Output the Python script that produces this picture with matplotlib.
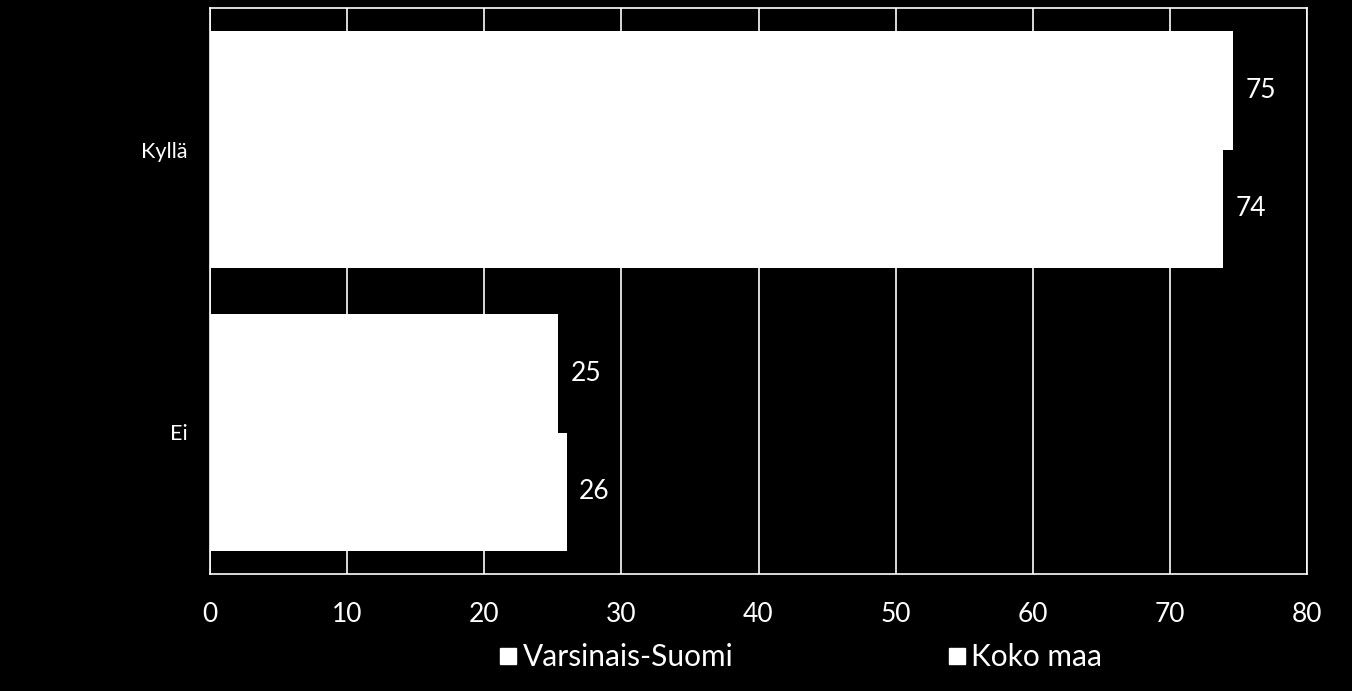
import matplotlib
matplotlib.use("Agg")
import matplotlib.pyplot as plt
from matplotlib.lines import Line2D
import numpy as np

plt.rcParams['font.family'] = ['Lato', 'DejaVu Sans']

categories = ['Kyllä', 'Ei']
series = ['Varsinais-Suomi', 'Koko maa']
varsinais_suomi = [74.6, 25.4]
koko_maa = [73.9, 26.0]
ticks = [0, 10, 20, 30, 40, 50, 60, 70, 80]

fig = plt.figure(figsize=(13.52, 6.91), dpi=100, facecolor='black')
ax = fig.add_axes([210/1352, 1 - 574/691, 1097/1352, 566/691], facecolor='black')

y = np.arange(len(categories))
h = 0.417
ax.barh(y - h/2, varsinais_suomi, height=h, color='white', zorder=3)
ax.barh(y + h/2, koko_maa, height=h, color='white', zorder=3)

for i in range(len(categories)):
    ax.text(varsinais_suomi[i] + 0.9, y[i] - h/2, f"{varsinais_suomi[i]:.0f}",
            color='white', fontsize=19, va='center', ha='left')
    ax.text(koko_maa[i] + 0.9, y[i] + h/2, f"{koko_maa[i]:.0f}",
            color='white', fontsize=19, va='center', ha='left')

ax.set_xlim(0, 80)
ax.set_ylim(1.5, -0.5)
ax.set_xticks(ticks)
ax.set_xticklabels([str(t) for t in ticks], fontsize=19, color='white')
ax.set_yticks(y)
ax.set_yticklabels(categories, fontsize=15.5, color='white')
ax.tick_params(axis='both', length=0)
ax.tick_params(axis='x', pad=20)
ax.tick_params(axis='y', pad=16)
ax.grid(axis='x', color='white', linewidth=1.2, zorder=0)
for s in ax.spines.values():
    s.set_color('white')
    s.set_linewidth(1.2)

handles = [Line2D([], [], marker='s', color='white', linestyle='none', markersize=11)
           for _ in series]
fig.legend(handles, series, loc='center', bbox_to_anchor=(801/1352, 1 - 657/691),
           ncol=2, frameon=False, fontsize=21.5, labelcolor='white',
           handlelength=0.55, handletextpad=0.2, columnspacing=7.2)

fig.savefig('out.png', dpi=100, facecolor='black')
